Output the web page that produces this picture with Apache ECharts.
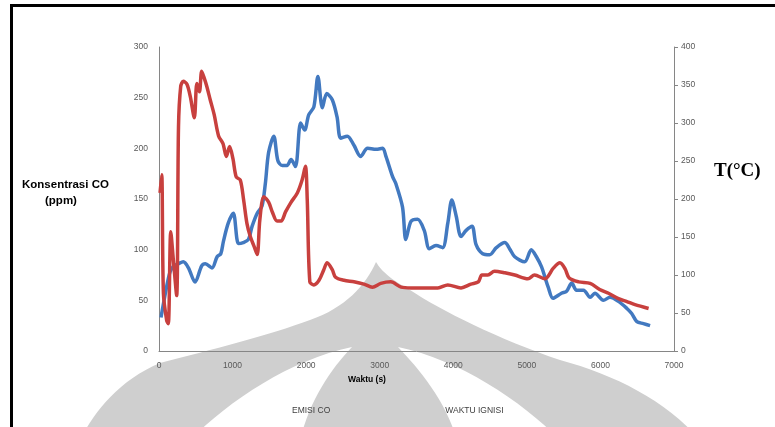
<!DOCTYPE html>
<html>
<head>
<meta charset="utf-8">
<script src="https://cdn.jsdelivr.net/npm/echarts@6/dist/echarts.min.js"></script>
<style>
  html, body { margin: 0; padding: 0; background: #ffffff; }
  #chart { width: 775px; height: 427px; }
</style>
</head>
<body>
<div id="chart"></div>
<script>
// CO emission (ppm) over time (s)
const coTime = [27, 100, 150, 200, 260, 330, 400, 490, 580, 630, 720, 790, 840, 875, 940, 1010, 1080, 1145, 1215, 1265, 1335, 1400, 1445, 1490, 1560, 1615, 1675, 1740, 1795, 1855, 1925, 1980, 2035, 2105, 2160, 2220, 2280, 2355, 2420, 2470, 2560, 2650, 2740, 2835, 2950, 3040, 3085, 3175, 3220, 3310, 3355, 3425, 3515, 3605, 3675, 3765, 3855, 3925, 3980, 4040, 4105, 4175, 4255, 4310, 4400, 4495, 4585, 4700, 4765, 4835, 4970, 5060, 5130, 5200, 5245, 5290, 5355, 5470, 5540, 5610, 5675, 5770, 5860, 5925, 6040, 6130, 6245, 6360, 6425, 6495, 6585, 6675];
const coValue = [33, 62, 78, 84, 86, 88, 82, 68, 84, 86, 82, 93, 96, 108, 126, 136, 106, 107, 110, 123, 136, 143, 165, 196, 212, 188, 183, 183, 189, 182, 225, 218, 233, 241, 271, 240, 254, 248, 231, 210, 212, 203, 192, 200, 199, 200, 192, 172, 165, 142, 110, 128, 130, 119, 101, 104, 102, 126, 149, 133, 113, 119, 123, 105, 96, 95, 102, 107, 101, 93, 88, 100, 93, 83, 73, 63, 52, 57, 59, 67, 60, 60, 53, 57, 50, 53, 49, 42, 37, 29, 27, 25];

// Ignition temperature (°C) over time (s)
const tempTime = [14, 37, 60, 105, 127, 160, 195, 240, 265, 295, 330, 380, 425, 480, 515, 550, 580, 615, 650, 695, 750, 810, 870, 915, 960, 1005, 1050, 1105, 1150, 1195, 1240, 1295, 1335, 1370, 1425, 1490, 1540, 1605, 1660, 1720, 1790, 1880, 1945, 1990, 2015, 2050, 2105, 2175, 2240, 2285, 2355, 2400, 2515, 2650, 2785, 2900, 3015, 3150, 3290, 3425, 3605, 3790, 3925, 4105, 4240, 4340, 4390, 4470, 4560, 4700, 4835, 5015, 5105, 5245, 5360, 5450, 5520, 5575, 5705, 5860, 5990, 6110, 6245, 6360, 6470, 6655];
const tempValue = [208, 232, 76, 40, 36, 157, 120, 73, 295, 348, 355, 351, 335, 307, 352, 341, 368, 359, 348, 331, 311, 283, 273, 256, 269, 253, 229, 225, 199, 168, 151, 137, 127, 172, 203, 196, 183, 171, 171, 183, 195, 208, 225, 243, 199, 91, 87, 93, 107, 116, 107, 97, 93, 91, 88, 84, 89, 91, 84, 83, 83, 83, 87, 83, 88, 91, 100, 100, 105, 103, 100, 95, 100, 95, 109, 116, 108, 96, 91, 89, 81, 76, 69, 65, 61, 56];

// Axis ranges and tick steps
const timeTicks = [0, 7000, 1000];
const coTicks = [0, 300, 50];
const tempTicks = [0, 400, 50];

const seriesNames = ['EMISI CO', 'WAKTU IGNISI'];

const pairs = (xs, ys) => xs.map((x, i) => [x, ys[i]]);

const labelFont = {
  color: '#595959',
  fontFamily: 'Liberation Sans',
  fontSize: 8.5,
  formatter: (v) => String(v)
};

// Turn a start point plus cubic segments [c1x,c1y,c2x,c2y,x,y] / line segments [x,y] into polygon points
function outline(start, segs) {
  const pts = [start.slice()];
  let p = start.slice();
  segs.forEach((s) => {
    if (s.length === 2) { pts.push(s.slice()); p = s.slice(); return; }
    for (let i = 1; i <= 16; i++) {
      const t = i / 16, u = 1 - t;
      pts.push([
        u * u * u * p[0] + 3 * u * u * t * s[0] + 3 * u * t * t * s[2] + t * t * t * s[4],
        u * u * u * p[1] + 3 * u * u * t * s[1] + 3 * u * t * t * s[3] + t * t * t * s[5]
      ]);
    }
    p = [s[4], s[5]];
  });
  return pts;
}

// Faint emblem behind the plot
const markGrey = '#CFCFCF';
const emblem = [
  { type: 'polygon', z: -10, silent: true,
    shape: { points: outline([376, 262], [
      [366, 285, 345, 308, 310, 320],
      [270, 335, 210, 350, 160, 363],
      [120, 380, 95, 410, 80, 440],
      [700, 440],
      [665, 400, 615, 375, 560, 360],
      [500, 340, 440, 310, 410, 290],
      [392, 280, 382, 272, 376, 262]
    ]) },
    style: { fill: markGrey } },
  { type: 'polygon', z: -9, silent: true,
    shape: { points: outline([352, 347], [[330, 370, 310, 400, 300, 440], [190, 440], [230, 400, 290, 360, 352, 347]]) },
    style: { fill: '#ffffff' } },
  { type: 'polygon', z: -9, silent: true,
    shape: { points: outline([398, 347], [[420, 370, 445, 400, 457, 440], [560, 440], [520, 400, 460, 360, 398, 347]]) },
    style: { fill: '#ffffff' } }
];

const chart = echarts.init(document.getElementById('chart'), null, { renderer: 'canvas' });

chart.setOption({
  animation: false,
  backgroundColor: '#ffffff',
  grid: { left: 159, right: 101, top: 47, bottom: 76, containLabel: false },
  legend: {
    data: seriesNames,
    icon: 'none',
    itemWidth: 0,
    itemHeight: 0,
    itemGap: 110,
    left: 282,
    top: 401,
    textStyle: { color: '#404040', fontFamily: 'Liberation Sans', fontSize: 8.5 }
  },
  xAxis: {
    type: 'value',
    min: timeTicks[0],
    max: timeTicks[1],
    interval: timeTicks[2],
    axisLine: { show: true, lineStyle: { color: '#868686', width: 1 } },
    axisTick: { show: false },
    splitLine: { show: false },
    axisLabel: Object.assign({ margin: 10 }, labelFont)
  },
  yAxis: [
    {
      type: 'value',
      min: coTicks[0],
      max: coTicks[1],
      interval: coTicks[2],
      axisLine: { show: true, lineStyle: { color: '#868686', width: 1 } },
      axisTick: { show: false },
      splitLine: { show: false },
      axisLabel: Object.assign({ margin: 11 }, labelFont)
    },
    {
      type: 'value',
      position: 'right',
      min: tempTicks[0],
      max: tempTicks[1],
      interval: tempTicks[2],
      axisLine: { show: true, lineStyle: { color: '#868686', width: 1 } },
      axisTick: { show: true, length: 4, lineStyle: { color: '#868686' } },
      splitLine: { show: false },
      axisLabel: Object.assign({ margin: 7 }, labelFont)
    }
  ],
  series: [
    {
      name: seriesNames[0],
      type: 'line',
      yAxisIndex: 0,
      data: pairs(coTime, coValue),
      smooth: 0.3,
      showSymbol: false,
      symbol: 'none',
      lineStyle: { color: '#4279C0', width: 3.5 },
      itemStyle: { color: '#4279C0' },
      z: 2
    },
    {
      name: seriesNames[1],
      type: 'line',
      yAxisIndex: 1,
      data: pairs(tempTime, tempValue),
      smooth: 0.3,
      showSymbol: false,
      symbol: 'none',
      lineStyle: { color: '#C8403E', width: 3.5 },
      itemStyle: { color: '#C8403E' },
      z: 3
    }
  ],
  graphic: emblem.concat([
    // page frame
    { type: 'rect', shape: { x: 10, y: 4, width: 775, height: 3 }, style: { fill: '#000000' }, z: 10 },
    { type: 'rect', shape: { x: 10, y: 4, width: 3, height: 430 }, style: { fill: '#000000' }, z: 10 },
    // axis titles
    {
      type: 'text', left: 22, top: 179, z: 10,
      style: { text: 'Konsentrasi CO', fontFamily: 'Liberation Sans', fontWeight: 'bold', fontSize: 11.5, fill: '#000000' }
    },
    {
      type: 'text', left: 45, top: 195, z: 10,
      style: { text: '(ppm)', fontFamily: 'Liberation Sans', fontWeight: 'bold', fontSize: 11.5, fill: '#000000' }
    },
    {
      type: 'text', left: 714, top: 162, z: 10,
      style: { text: 'T(°C)', fontFamily: 'Liberation Serif', fontWeight: 'bold', fontSize: 19, fill: '#000000' }
    },
    {
      type: 'text', left: 348, top: 375, z: 10,
      style: { text: 'Waktu (s)', fontFamily: 'Liberation Sans', fontWeight: 'bold', fontSize: 8.5, fill: '#000000' }
    }
  ])
});
</script>
</body>
</html>
